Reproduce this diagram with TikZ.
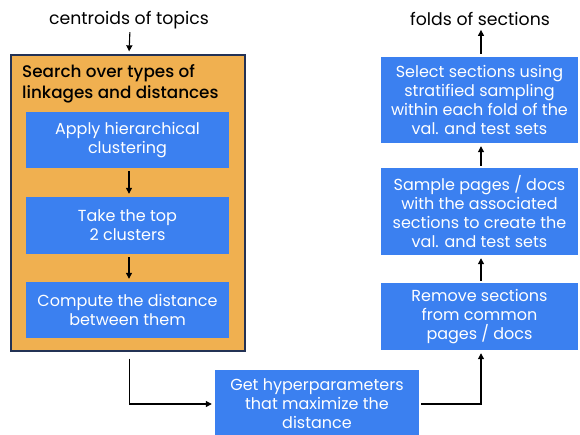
\documentclass[tikz,border=0pt]{standalone}
\usepackage{fontspec}
\setmainfont{Poppins}
\newfontfamily\titlefont{Poppins Medium}
\usetikzlibrary{arrows.meta}
\definecolor{stepblue}{RGB}{59,128,240}
\definecolor{searchorange}{RGB}{240,176,80}
\definecolor{searchedge}{RGB}{35,50,85}
\tikzset{
  stepbox/.style={fill=stepblue, text=white, inner sep=0pt, align=center,
    font=\fontsize{16}{19}\selectfont},
  label/.style={inner sep=0pt, font=\fontsize{17.3}{20}\selectfont},
  arr/.style={line width=1.1pt, -{Triangle[length=6pt,width=6pt]}},
}
\begin{document}
\begin{tikzpicture}[x=1pt,y=-1pt]
\useasboundingbox (0,0) rectangle (580,434);
% left column: search loop
\node[label] (centroids) at (129,20) {centroids of topics};
\node[draw=searchedge, line width=1.3pt, fill=searchorange, minimum width=234pt,
  minimum height=296pt, inner sep=0pt] (search) at (128,203) {};
\node[anchor=north west, inner sep=0pt, align=left,
  font=\titlefont\fontsize{16.8}{21.5}\selectfont] (title) at (22,64)
  {Search over types of\\linkages and distances};
\node[stepbox, minimum width=203pt, minimum height=56pt] (apply) at (127.5,140)
  {Apply hierarchical\\clustering};
\node[stepbox, minimum width=203pt, minimum height=57pt] (take) at (127.5,225.5)
  {Take the top\\2 clusters};
\node[stepbox, minimum width=203pt, minimum height=56pt] (compute) at (127.5,310)
  {Compute the distance\\between them};
% bottom: selection of hyperparameters
\node[stepbox, minimum width=204pt, minimum height=68pt] (get) at (317,404)
  {Get hyperparameters\\that maximize the\\distance};
% right column: building the folds
\node[stepbox, minimum width=197pt, minimum height=67pt] (remove) at (479.5,316.5)
  {Remove sections\\from common\\pages / docs};
\node[stepbox, minimum width=197pt, minimum height=87pt] (sample) at (479.5,211.5)
  {Sample pages / docs\\with the associated\\sections to create the\\val. and test sets};
\node[stepbox, minimum width=197pt, minimum height=86pt] (select) at (479.5,100)
  {Select sections using\\stratified sampling\\within each fold of the\\val. and test sets};
\node[label] (folds) at (480,19) {folds of sections};
% connectors
\draw[arr, shorten <=3pt, shorten >=3pt] ([xshift=1pt]centroids.south) -- ([xshift=1pt]search.north);
\draw[arr, shorten <=3pt, shorten >=3pt] ([xshift=1.5pt]apply.south) -- ([xshift=1.5pt]take.north);
\draw[arr, shorten <=3pt, shorten >=3pt] ([xshift=1.5pt]take.south) -- ([xshift=1.5pt]compute.north);
\draw[arr, shorten <=7pt, shorten >=3pt] ([xshift=1.5pt]search.south) |- (get.west);
\draw[arr, shorten <=2pt, shorten >=3pt] (get.east) -| ([xshift=1.5pt]remove.south);
\draw[arr, shorten <=2pt, shorten >=3pt] ([xshift=1.5pt]remove.north) -- ([xshift=1.5pt]sample.south);
\draw[arr, shorten <=2pt, shorten >=3pt] ([xshift=1.5pt]sample.north) -- ([xshift=1.5pt]select.south);
\draw[arr, shorten <=3pt, shorten >=4pt] ([xshift=1.5pt]select.north) -- ([xshift=1pt]folds.south);
\end{tikzpicture}
\end{document}
